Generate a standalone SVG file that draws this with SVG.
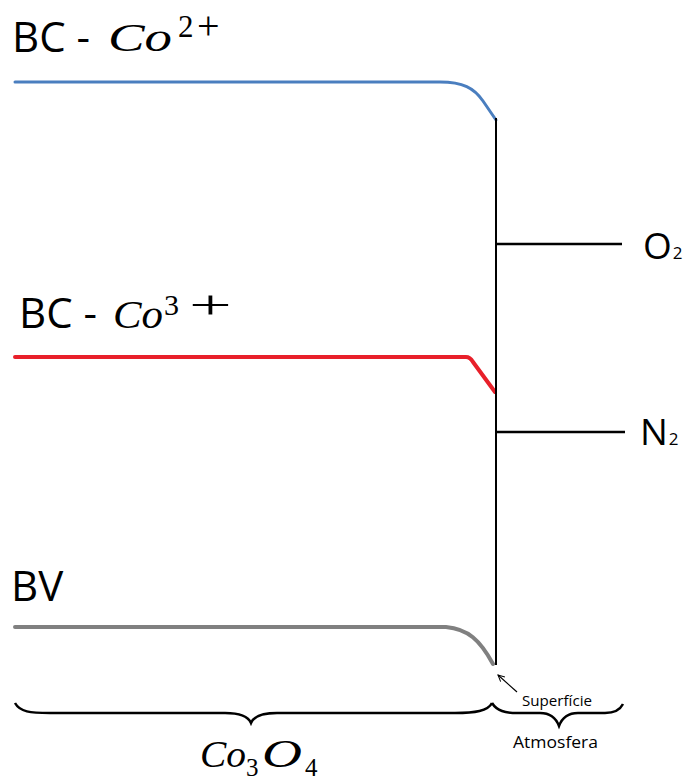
<svg xmlns="http://www.w3.org/2000/svg" width="691" height="782" viewBox="0 0 691 782">
  <style>
    .sans { font-family: "Open Sans", "Liberation Sans", sans-serif; fill: #000; }
    .math { font-family: "Liberation Serif", "DejaVu Serif", serif; font-style: italic; fill: #000; }
    .up { font-family: "Liberation Serif", "DejaVu Serif", serif; fill: #000; }
    .band { fill: none; stroke-linecap: round; stroke-linejoin: round; }
    .ink { fill: none; stroke: #000; }
  </style>
  <defs>
    <marker id="chev" viewBox="0 0 10 10" refX="9" refY="5" markerWidth="8" markerHeight="8" orient="auto" markerUnits="userSpaceOnUse">
      <path d="M1,1 L9,5 L1,9" fill="none" stroke="#000" stroke-width="1.3"/>
    </marker>
  </defs>

  <rect width="691" height="782" fill="#fff"/>

  <!-- band edges bending towards the surface -->
  <g id="bc-co2">
    <path class="band" d="M15,82 H440 C463,82 474,88 483,101 L496,120" stroke="#4a7ebf" stroke-width="3"/>
    <text class="sans" x="12" y="52" font-size="42">BC -</text>
    <text class="math" x="108" y="51" font-size="40" textLength="64" lengthAdjust="spacingAndGlyphs">Co</text>
    <text class="up" x="178" y="37" font-size="31">2</text>
    <text class="up" x="197" y="39" font-size="40">+</text>
  </g>

  <g id="bc-co3">
    <path class="band" d="M15,357 H466 Q470,357 473,362 L495,392" stroke="#e8202a" stroke-width="4"/>
    <text class="sans" x="19" y="328" font-size="42">BC -</text>
    <text class="math" x="113" y="328" font-size="40" textLength="50" lengthAdjust="spacingAndGlyphs">Co</text>
    <text class="up" x="164" y="315" font-size="30">3</text>
    <text class="up" font-size="40" transform="translate(189,318) scale(1.9,1)">+</text>
  </g>

  <g id="bv">
    <path class="band" d="M15,627 H446 C468,629 480,640 493,664" stroke="#808080" stroke-width="4"/>
    <text class="sans" x="11" y="601" font-size="42">BV</text>
  </g>

  <!-- surface and adsorbate levels -->
  <g id="surface">
    <path class="ink" d="M496,118 V665" stroke-width="2"/>
  </g>

  <g id="o2">
    <text class="sans" x="643" y="259" font-size="37">O<tspan font-size="17" dx="1">2</tspan></text>
  </g>

  <g id="n2">
    <text class="sans" x="640" y="445" font-size="37">N<tspan font-size="17" dx="1">2</tspan></text>
  </g>

  <g id="connectors">
    <path class="ink" d="M497,244 H622" stroke-width="2.5"/>
    <path class="ink" d="M497,432 H625" stroke-width="2.5"/>
    <path class="ink" d="M517,692 L498,675" stroke-width="1.2" marker-end="url(#chev)"/>
  </g>

  <!-- region braces -->
  <g id="co3o4">
    <path class="ink" d="M15,703 C20,712 30,713 50,713 H225 C240,713 248,716 251,723 C254,716 262,713 277,713 H455 C475,713 488,711 492,703" stroke-width="2.5"/>
    <text class="math" x="200" y="767" font-size="38" textLength="46" lengthAdjust="spacingAndGlyphs">Co</text>
    <text class="up" x="246" y="776" font-size="25">3</text>
    <text class="math" x="262" y="767" font-size="40" textLength="40" lengthAdjust="spacingAndGlyphs">O</text>
    <text class="up" x="305" y="776" font-size="25">4</text>
  </g>

  <g id="atmosfera">
    <path class="ink" d="M492,703 C497,711 505,713 518,713 H540 C550,713 556,718 559,726 C562,718 568,713 578,713 H605 C615,713 620,710 623,704" stroke-width="2.5"/>
    <text class="sans" x="522" y="706" font-size="14" textLength="70" lengthAdjust="spacingAndGlyphs">Superfície</text>
    <text class="sans" x="513" y="748" font-size="17" textLength="85" lengthAdjust="spacingAndGlyphs">Atmosfera</text>
  </g>
</svg>
